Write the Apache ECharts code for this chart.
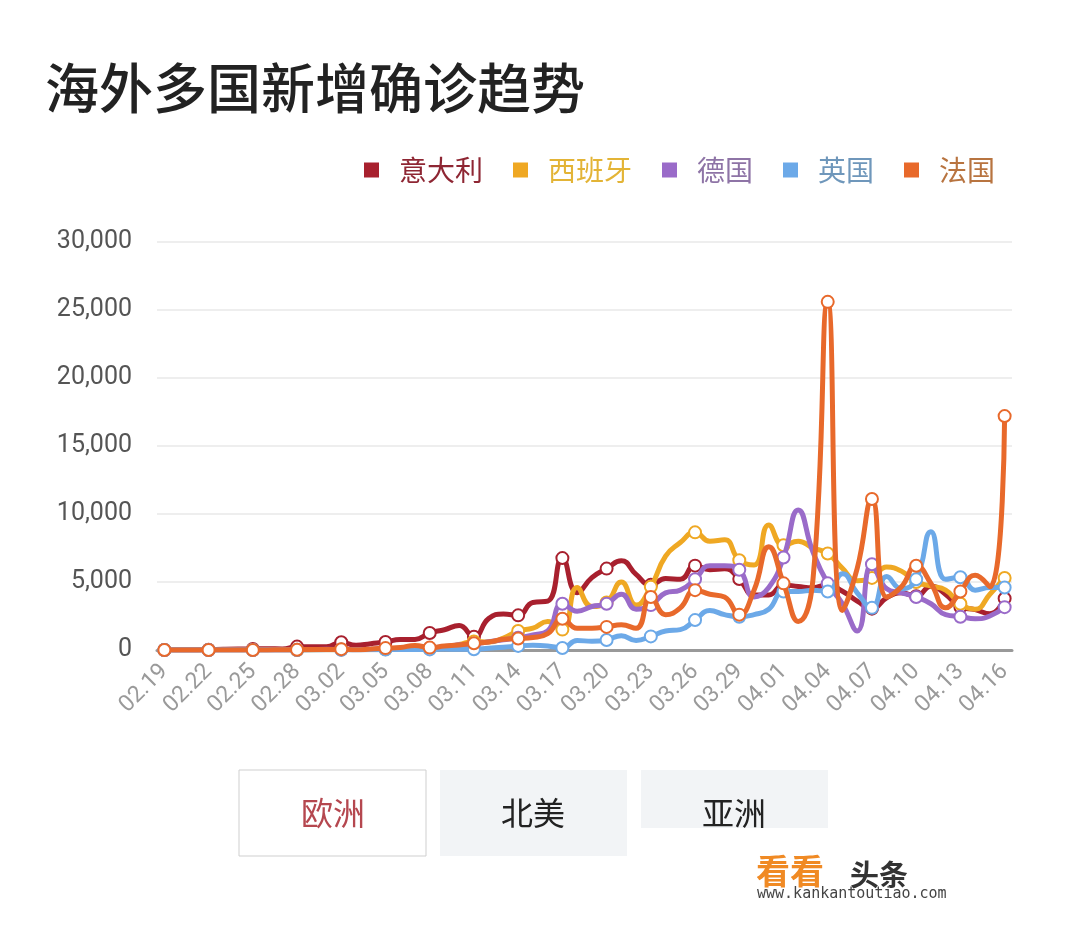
<!DOCTYPE html>
<html>
<head>
<meta charset="utf-8">
<script src="https://cdn.jsdelivr.net/npm/echarts@6/dist/echarts.min.js"></script>
<style>
html,body{margin:0;padding:0;background:#fff;}
#chart{width:1080px;height:928px;}
</style>
</head>
<body>
<div id="chart"></div>
<script>
var dates = ['02.19','02.20','02.21','02.22','02.23','02.24','02.25','02.26','02.27','02.28',
  '02.29','03.01','03.02','03.03','03.04','03.05','03.06','03.07','03.08','03.09',
  '03.10','03.11','03.12','03.13','03.14','03.15','03.16','03.17','03.18','03.19',
  '03.20','03.21','03.22','03.23','03.24','03.25','03.26','03.27','03.28','03.29',
  '03.30','03.31','04.01','04.02','04.03','04.04','04.05','04.06','04.07','04.08',
  '04.09','04.10','04.11','04.12','04.13','04.14','04.15','04.16'];

var italy = [0,0,3,17,59,76,77,93,78,250,
  238,240,566,342,466,587,769,778,1247,1492,
  1797,977,2313,2651,2547,3497,3590,6759,4207,5322,
  5986,6557,5560,4789,5249,5210,6203,5909,5974,5217,
  4050,4053,4782,4668,4585,4805,4316,3599,3039,3836,
  4204,3951,4694,4092,3153,2972,2667,3786];

var spain = [0,0,0,0,0,0,1,4,3,3,
  9,13,39,36,45,57,37,141,100,173,
  400,622,582,870,1400,1600,2100,1500,4600,3200,
  3500,5000,3300,4650,6900,7900,8650,8000,8100,6600,
  6250,9200,7700,8000,7500,7100,6000,5100,5300,6100,
  5800,5000,4700,4400,3400,3000,4100,5300];

var germany = [0,0,0,0,0,0,0,2,8,10,
  30,50,40,30,60,100,130,200,150,250,
  380,450,600,750,900,1100,1400,3400,2850,3200,
  3400,4100,3000,3300,4200,4400,5200,6200,6200,5900,
  3900,4600,6800,10300,7200,4900,3400,1400,6300,4500,
  4200,3900,3400,2600,2450,2300,2500,3150];

var uk = [0,0,0,0,0,0,0,0,0,4,
  3,12,13,4,11,34,30,48,43,67,
  48,60,130,200,300,350,300,150,700,640,
  740,1050,700,1000,1400,1500,2200,2900,2600,2450,
  2600,3000,4300,4300,4400,4300,5600,4200,3100,5400,
  4500,5200,8700,5200,5350,4400,4600,4600];

var france = [0,0,0,0,0,0,0,2,20,19,
  43,30,61,21,73,138,190,336,177,286,
  372,497,595,785,850,920,1200,2300,1600,1600,
  1700,1850,1600,3900,2600,3100,4400,4100,3900,2600,
  4400,7600,4900,2100,5200,25600,2900,6000,11100,3900,
  4650,6200,4900,3100,4300,5500,4650,17200];

var seriesNames = ['意大利','西班牙','德国','英国','法国'];
var seriesColors = ['#A8202E','#EFA823','#9A6BC9','#6CA9E8','#E8692B'];
var legendTextColors = ['#8E2633','#E3B436','#8E74A6','#6F97BB','#B87440'];
var yTicks = [0,5000,10000,15000,20000,25000,30000];

var allData = [italy, spain, germany, uk, france];

var chart = echarts.init(document.getElementById('chart'), null, {renderer:'canvas'});

function fmt(v){
  return String(v).replace(/\B(?=(\d{3})+(?!\d))/g, ',');
}

var series = allData.map(function(d, i){
  return {
    name: seriesNames[i],
    type: 'line',
    data: d,
    smooth: true,
    symbol: 'emptyCircle',
    showSymbol: true,
    showAllSymbol: true,
    symbolSize: function(v, p){ return p.dataIndex % 3 === 0 ? 12 : 0; },
    lineStyle: {width: 5, color: seriesColors[i]},
    itemStyle: {color: seriesColors[i], borderWidth: 2.5},
    emphasis: {disabled: true},
    z: 2 + i
  };
});

var option = {
  animation: false,
  backgroundColor: '#fff',
  textStyle: {fontFamily: 'Roboto, "Noto Sans CJK SC", sans-serif'},
  title: {
    text: '海外多国新增确诊趋势',
    left: 40,
    top: 56,
    textStyle: {fontSize: 54, fontWeight: 500, color: '#222', fontFamily: '"Noto Sans CJK SC", sans-serif'}
  },
  legend: {
    right: 85,
    top: 156,
    padding: 0,
    icon: 'rect',
    itemWidth: 15,
    itemHeight: 15,
    itemGap: 30,
    data: seriesNames.map(function(n, i){
      return {name: n, itemStyle: {color: seriesColors[i]}, textStyle: {color: legendTextColors[i]}};
    }),
    textStyle: {fontSize: 28, padding: [0,0,0,15], fontFamily: '"Noto Sans CJK SC", sans-serif'}
  },
  grid: {left: 157, right: 68, top: 242, bottom: 278, containLabel: false},
  xAxis: {
    type: 'category',
    data: dates,
    boundaryGap: true,
    axisLine: {lineStyle: {color: '#999', width: 3}},
    axisTick: {show: false},
    axisLabel: {interval: 2, rotate: 45, fontSize: 23, color: '#9a9a9a', margin: 18}
  },
  yAxis: {
    type: 'value',
    min: yTicks[0],
    max: yTicks[yTicks.length - 1],
    interval: 5000,
    axisLine: {show: false},
    axisTick: {show: false},
    axisLabel: {fontSize: 25, color: '#555', margin: 25, formatter: fmt},
    splitLine: {lineStyle: {color: '#eee', width: 2}}
  },
  series: series,
  graphic: [
    {type: 'rect', shape: {x: 239, y: 770, width: 187, height: 86}, style: {fill: '#fff', stroke: '#cfcfcf', lineWidth: 1}},
    {type: 'text', x: 333, y: 813, style: {text: '欧洲', fill: '#B5474F', align: 'center', verticalAlign: 'middle', font: '32px "Noto Sans CJK SC", sans-serif'}},
    {type: 'rect', shape: {x: 440, y: 770, width: 187, height: 86}, style: {fill: '#F2F4F6'}},
    {type: 'text', x: 533, y: 813, style: {text: '北美', fill: '#222', align: 'center', verticalAlign: 'middle', font: '32px "Noto Sans CJK SC", sans-serif'}},
    {type: 'rect', shape: {x: 641, y: 770, width: 187, height: 58}, style: {fill: '#F2F4F6'}},
    {type: 'text', x: 734, y: 813, style: {text: '亚洲', fill: '#222', align: 'center', verticalAlign: 'middle', font: '32px "Noto Sans CJK SC", sans-serif'}},
    {type: 'text', x: 756, y: 871, style: {text: '看看', fill: '#F08A24', verticalAlign: 'middle', font: 'bold 34px "Noto Sans CJK SC", sans-serif'}},
    {type: 'text', x: 850, y: 875, style: {text: '头条', fill: '#333', verticalAlign: 'middle', font: 'bold 29px "Noto Sans CJK SC", sans-serif'}},
    {type: 'text', x: 757, y: 894, style: {text: 'www.kankantoutiao.com', fill: '#444', verticalAlign: 'middle', font: '15px "DejaVu Sans Mono", monospace'}}
  ]
};

chart.setOption(option);
</script>
</body>
</html>
